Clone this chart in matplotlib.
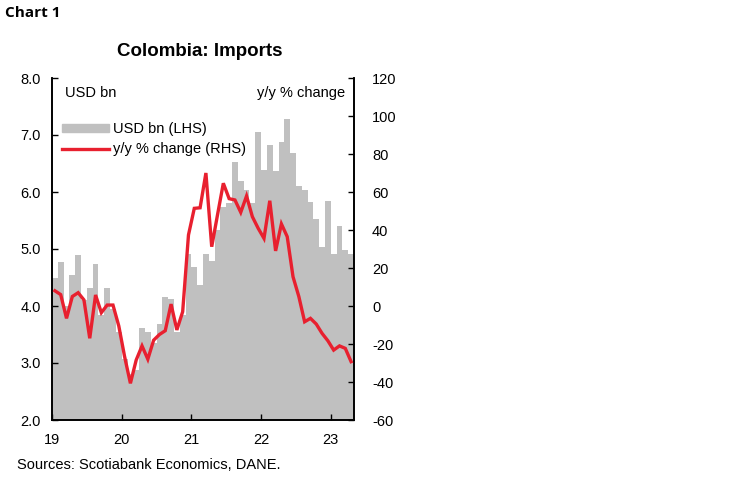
import matplotlib
matplotlib.use("Agg")
import matplotlib.pyplot as plt
import numpy as np

# monthly, Jan-2019 .. Apr-2023
imports_bn = [4.50, 4.77, 4.00, 4.54, 4.89, 4.10, 4.31, 4.74, 3.85, 4.31, 3.95, 3.55,
              3.07, 2.80, 2.88, 3.62, 3.55, 3.35, 3.68, 4.16, 4.13, 3.55, 3.85, 4.91,
              4.68, 4.36, 4.91, 4.79, 5.33, 5.74, 5.81, 6.53, 6.19, 6.04, 5.80, 7.06,
              6.38, 6.83, 6.36, 6.88, 7.28, 6.69, 6.11, 6.04, 5.83, 5.52, 5.04, 5.84,
              4.92, 5.40, 4.99, 4.92]
yoy_pct = [8, 6, -6.5, 5, 7, 3.2, -17, 5.8, -3.5, 0.5, 0.5, -10.5,
           -26.6, -40.7, -28.4, -21, -28, -18, -15, -13, 1, -12.6, -3, 37.4,
           51.4, 51.7, 70, 31.2, 48, 64.6, 56.5, 55.8, 49.3, 57.9, 47, 40.9,
           35.6, 55.4, 29, 43.2, 36.5, 15.4, 5, -8.3, -6.5, -9.5, -14.4, -18.3,
           -23.2, -21, -22.3, -29.3]
year_labels = ["19", "20", "21", "22", "23"]
left_ticks = [2.0, 3.0, 4.0, 5.0, 6.0, 7.0, 8.0]
right_ticks = [-60, -40, -20, 0, 20, 40, 60, 80, 100, 120]

GREY = "#c0c0c0"
RED = "#e8202f"
plt.rcParams["font.family"] = ["Liberation Sans", "DejaVu Sans"]
plt.rcParams["axes.unicode_minus"] = False

fig = plt.figure(figsize=(7.48, 4.83), dpi=100)
ax = fig.add_axes([52 / 748, 63 / 483, 302 / 748, 342 / 483])
ax2 = ax.twinx()

n = len(imports_bn)
x = np.arange(n)
ax.bar(x, imports_bn, width=1.0, align="edge", color=GREY, edgecolor="none", zorder=1)
ax2.plot(x + 0.5, yoy_pct, color=RED, lw=2.4, solid_joinstyle="miter", zorder=3)

ax.set_xlim(0, n)
ax.set_ylim(2.0, 8.0)
ax2.set_ylim(-60, 120)
ax.set_yticks(left_ticks)
ax.set_yticklabels([f"{v:.1f}" for v in left_ticks])
ax2.set_yticks(right_ticks)
ax.set_xticks(np.arange(0, n, 12))
ax.set_xticklabels(year_labels)

for a in (ax, ax2):
    a.spines["top"].set_visible(False)
    for s in ("left", "right", "bottom"):
        a.spines[s].set_color("black")
        a.spines[s].set_linewidth(1.2)
    a.tick_params(direction="in", length=4, width=1.0, labelsize=10.5, colors="black")
ax.tick_params(axis="y", pad=8)
ax2.tick_params(axis="y", pad=13)
ax.tick_params(axis="x", pad=9)

ax2.text(0.043, 0.956, "USD bn", transform=ax.transAxes, fontsize=10.5, va="center", ha="left")
ax2.text(0.97, 0.956, "y/y % change", transform=ax.transAxes, fontsize=10.5, va="center", ha="right")

ax2.legend(handles=[
    plt.Rectangle((0, 0), 1, 1, color=GREY, label="USD bn (LHS)"),
    plt.Line2D([0], [0], color=RED, lw=2.4, label="y/y % change (RHS)")],
    loc="upper left", bbox_to_anchor=(0.0, 0.90), frameon=False, fontsize=10.5,
    handlelength=3.2, handleheight=0.5, handletextpad=0.3, labelspacing=0.4, borderaxespad=0.3)

fig.text(5 / 748, 1 - 13 / 483, "Chart 1", fontsize=11, fontweight="bold", va="center", ha="left",
         family=["Open Sans", "DejaVu Sans"])
fig.text(200 / 748, 1 - 52 / 483, "Colombia: Imports", fontsize=13.5, fontweight="bold", va="center", ha="center")
fig.text(17 / 748, 1 - 465 / 483, "Sources: Scotiabank Economics, DANE.", fontsize=10.5, va="center", ha="left")

fig.savefig("out.png", dpi=100)
